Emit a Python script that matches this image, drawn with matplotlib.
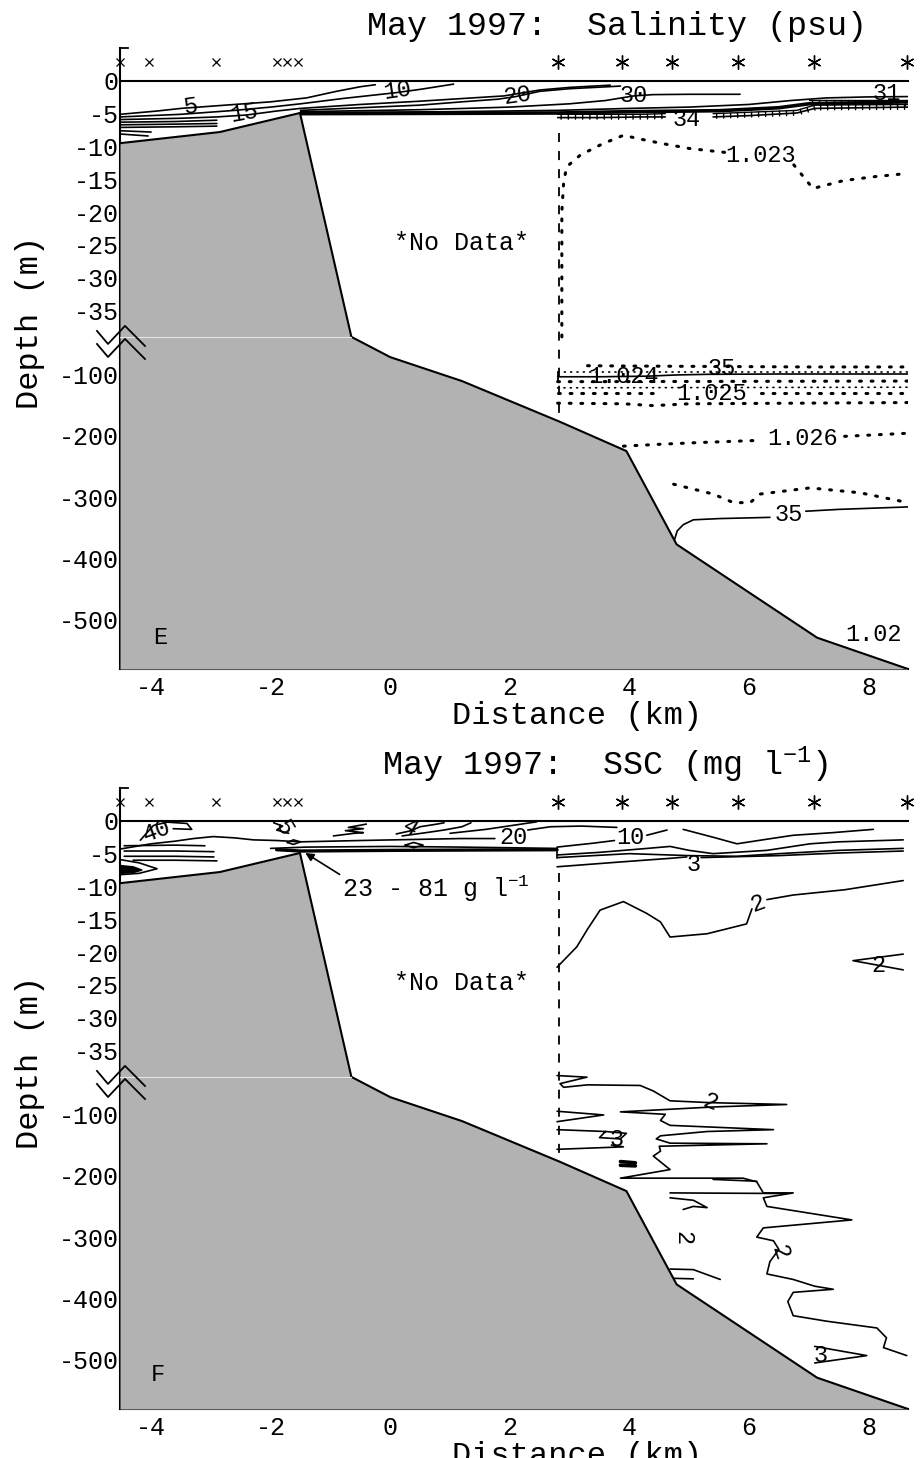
import numpy as np
import matplotlib
matplotlib.use('Agg')
import matplotlib.pyplot as plt
from matplotlib import patheffects as pe

plt.rcParams['font.family'] = ['Liberation Mono', 'DejaVu Sans']
plt.rcParams['mathtext.fontset'] = 'custom'
plt.rcParams['mathtext.rm'] = 'Liberation Mono'
plt.rcParams['mathtext.it'] = 'Liberation Mono'
plt.rcParams['mathtext.bf'] = 'Liberation Mono:bold'

# ---------------- data ----------------
x_ticks = [-4, -2, 0, 2, 4, 6, 8]
depth_ticks = [0, -5, -10, -15, -20, -25, -30, -35, -100, -200, -300, -400, -500]
depth_tick_labels = ['0', '-5', '-10', '-15', '-20', '-25', '-30', '-35',
                     '-100', '-200', '-300', '-400', '-500']

bathy_x = [-4.52, -2.85, -1.51, -0.65, 0.0, 1.2, 2.83, 3.95, 4.79, 7.14, 8.66]
bathy_z = [-9.5, -7.8, -4.9, -39.0, -72, -111, -177, -225, -377, -529, -580]

cross_stations = [-4.52, -4.03, -2.91, -1.89, -1.73, -1.55]
star_stations = [2.81, 3.87, 4.71, 5.82, 7.08, 8.64]
no_data_x = 2.83

# Salinity (panel E) contour lines, (distance km, depth m)
sal_05 = [(-4.52, -5.1), (-3.9, -4.6), (-3.5, -4.2), (-2.6, -3.6), (-2.0, -3.2), (-1.4, -2.6),
          (-0.9, -1.6), (-0.5, -0.9), (-0.25, -0.6)]
sal_10 = [(-4.52, -5.5), (-3.5, -5.1), (-2.6, -4.5), (-2.0, -4.0), (-1.5, -3.5), (-0.8, -2.7),
          (-0.3, -2.2), (0.1, -1.8), (0.5, -1.3), (1.06, -0.5)]
sal_15 = [(-4.52, -5.9), (-3.5, -5.7), (-2.9, -5.5), (-2.4, -5.2), (-1.9, -4.6), (-1.5, -4.2),
          (-0.5, -3.6), (0.5, -3.1), (1.2, -2.7), (1.9, -2.3), (2.5, -1.4), (3.0, -1.0), (3.68, -0.66)]
sal_20 = [(-1.5, -4.5), (-0.5, -4.1), (0.5, -3.7), (1.2, -3.2), (1.8, -2.8), (2.1, -2.4),
          (2.5, -1.6), (3.0, -1.2), (3.85, -0.8)]
sal_30 = [(-1.5, -4.7), (0.5, -4.4), (2.0, -4.0), (3.0, -3.5), (3.6, -3.0), (4.07, -2.3),
          (4.4, -2.1), (5.0, -2.05), (5.85, -2.05)]
sal_31 = [(-1.5, -4.85), (1.0, -4.7), (2.8, -4.5), (4.0, -4.2), (5.0, -4.0), (6.0, -3.6),
          (6.7, -3.0), (7.3, -2.6), (8.0, -2.45), (8.66, -2.4)]
sal_33 = [(-1.5, -5.0), (1.0, -4.95), (2.8, -4.9), (4.0, -4.7), (5.5, -4.55), (6.5, -4.1),
          (7.0, -3.5), (8.66, -3.2)]
sal_34a = [(2.8, -5.6), (3.5, -5.6), (4.2, -5.5), (4.6, -5.5)]
sal_34b = [(5.4, -5.5), (6.0, -5.3), (6.8, -4.9), (7.1, -4.2), (8.66, -4.0)]
sig_a = [(2.8, -5.1), (4.2, -5.1), (4.6, -5.0)]
sig_b = [(5.4, -5.0), (6.8, -4.5), (7.1, -3.7), (8.66, -3.6)]
sig_c = [(7.0, -2.9), (8.66, -2.9)]
sal_pool = [
    [(-4.52, -6.3), (-3.6, -6.2), (-2.9, -6.0)],
    [(-4.52, -6.7), (-3.6, -6.6), (-2.9, -6.5)],
    [(-4.52, -7.1), (-3.6, -7.0), (-2.9, -6.9)],
    [(-4.52, -7.6), (-4.0, -7.8)],
    [(-4.52, -8.1), (-4.05, -8.4)],
]
sal_35a = [(2.8, -104), (3.5, -104), (4.3, -103), (4.8, -101), (5.3, -100), (6.5, -99.5), (8.66, -99.5)]
sal_35b = [(4.74, -374), (4.8, -355), (4.9, -345), (5.07, -337), (5.5, -335), (6.35, -333)]
sal_35c = [(6.95, -323), (7.5, -320), (8.66, -316)]

# density (sigma) dotted lines, panel E
den_1023a = [(2.87, -39), (2.87, -30), (2.87, -20), (2.9, -15.5), (2.95, -13.1), (3.18, -11.3),
             (3.55, -9.6), (3.9, -8.3), (4.2, -8.9), (4.52, -9.5), (5.0, -10.3), (5.7, -11.0)]
den_1023b = [(6.75, -12.8), (7.07, -16.4), (7.58, -15.2), (8.1, -14.6), (8.66, -14.1)]
den_1024a = [(3.3, -86), (4.0, -86.5), (5.0, -87), (6.0, -87.5), (7.0, -88), (8.66, -88)]
den_1024b = [(2.8, -96), (8.66, -96)]
den_1025a = [(2.8, -112), (8.66, -111)]
den_1025b = [(2.8, -122), (8.66, -121)]
den_1025c = [(2.8, -131), (4.5, -131)]
den_1025d = [(6.2, -131), (8.66, -131)]
den_1025e = [(2.8, -147), (3.9, -148), (4.4, -151), (5.0, -148), (8.66, -146)]
den_1026a = [(3.9, -217), (4.5, -214), (5.2, -211), (6.2, -207.5)]
den_1026b = [(7.6, -201), (8.66, -196)]
den_1027 = [(4.74, -279), (5.4, -295), (5.74, -309), (6.02, -309), (6.19, -295), (7.02, -285),
            (7.86, -293), (8.66, -309)]

# SSC (panel F) contour lines
ssc_40loop = [(-4.18, -2.95), (-3.96, -0.7), (-3.73, -0.2), (-3.40, -0.4), (-3.32, -1.3), (-3.63, -1.2)]
ssc_top = [(-4.52, -4.3), (-4.0, -3.5), (-3.6, -3.1), (-3.29, -2.7), (-2.96, -2.4), (-2.6, -2.6),
           (-2.29, -2.9), (-1.9, -3.0), (-1.5, -3.2), (-0.5, -3.0), (1.17, -2.7), (1.75, -2.7)]
ssc_pool = [
    [(-4.45, -3.8), (-3.6, -3.7), (-3.1, -3.8)],
    [(-4.45, -4.6), (-3.6, -4.6), (-2.95, -4.7)],
    [(-4.45, -5.4), (-3.6, -5.4), (-2.95, -5.5)],
    [(-4.3, -6.0), (-3.6, -6.0), (-2.9, -6.1)],
    [(-4.52, -5.9), (-4.2, -6.4), (-3.9, -7.3), (-4.2, -8.0), (-4.52, -8.2)],
]
ssc_eye = [(-4.52, -6.8), (-4.3, -7.0), (-4.15, -7.5), (-4.3, -7.9), (-4.52, -8.0)]
ssc_mid1 = [(-2.0, -4.2), (-1.4, -4.0), (0.0, -3.9), (1.17, -4.0), (2.79, -4.2)]
ssc_mid2 = [(-1.9, -4.4), (-1.5, -4.6), (0.0, -4.5), (2.79, -4.4)]
ssc_loop_a = [(-1.72, -3.3), (-1.62, -2.9), (-1.5, -3.2), (-1.62, -3.6), (-1.72, -3.3)]
ssc_loop_b = [(0.25, -3.7), (0.39, -3.3), (0.55, -3.7), (0.39, -4.1), (0.25, -3.7)]
ssc_zig_a = [(-0.95, -2.3), (-0.6, -1.9), (-0.45, -1.8), (-0.75, -1.5), (-0.45, -1.2), (-0.7, -1.0), (-0.4, -0.5)]
ssc_zig_b = [(0.1, -2.0), (0.35, -1.5), (0.5, -0.9), (0.78, -0.5), (0.9, -0.3)]
ssc_zig_c = [(0.2, -2.3), (0.6, -1.8), (0.9, -1.4), (1.2, -0.9), (1.35, -0.3)]
ssc_zig_d = [(-1.95, -0.3), (-1.8, -0.8), (-1.9, -1.4), (-1.7, -1.9)]
ssc_20top = [(1.0, -1.9), (1.6, -1.3), (2.45, -0.15)]
ssc_20 = [(2.3, -1.4), (2.68, -0.9), (3.2, -0.8), (3.79, -1.0)]
ssc_10a = [(2.79, -4.0), (3.4, -3.4), (3.75, -3.0)]
ssc_10b = [(4.29, -2.2), (4.63, -1.4)]
ssc_10c = [(4.9, -1.3), (5.4, -2.5), (5.8, -3.5), (6.3, -2.8), (6.74, -2.2), (7.4, -1.8), (8.08, -1.3)]
ssc_c1 = [(2.79, -5.2), (3.5, -4.8), (4.3, -4.2), (4.68, -3.9), (5.0, -4.5), (5.4, -5.0),
          (6.3, -4.5), (7.02, -3.5), (7.5, -3.2), (8.58, -2.9)]
ssc_c2 = [(2.79, -5.6), (4.0, -5.0), (5.0, -5.3), (5.8, -5.4), (6.5, -5.0), (7.5, -4.5), (8.58, -4.2)]
ssc_3a = [(2.79, -7.0), (3.8, -6.3), (4.7, -5.7), (4.96, -5.5)]
ssc_3b = [(5.2, -5.6), (6.5, -5.3), (7.5, -4.9), (8.58, -4.6)]
ssc_step = [(2.79, -4.2), (2.79, -5.6)]
ssc_2a = [(2.79, -22.3), (3.12, -19.2), (3.3, -16.5), (3.51, -13.6), (3.9, -12.3), (4.29, -14.1),
          (4.52, -15.4), (4.68, -17.7), (5.3, -17.2), (5.96, -15.7), (6.05, -13.4)]
ssc_2b = [(6.3, -12.0), (6.74, -11.3), (7.6, -10.5), (8.58, -9.1)]
ssc_2c = [(8.58, -20.3), (7.74, -21.3), (8.58, -22.7)]
ssc_deep = [(2.79, -38.8), (3.29, -39.5), (2.84, -50), (2.9, -56), (3.3, -52), (4.18, -53),
            (4.4, -62), (4.68, -78), (5.35, -81), (6.63, -84), (5.41, -88), (3.85, -96),
            (4.6, -100), (4.52, -110), (4.68, -118), (6.41, -125), (5.3, -128), (4.52, -135),
            (4.45, -140), (4.68, -147), (6.3, -148), (4.5, -152), (4.52, -160), (4.4, -168),
            (4.68, -190), (3.85, -204), (5.9, -204), (6.13, -210), (6.24, -228), (6.74, -228),
            (6.24, -236), (6.3, -250), (7.72, -272), (6.24, -285), (6.13, -300), (6.41, -306),
            (6.5, -320), (6.35, -340), (6.3, -360), (6.74, -369), (7.1, -380), (7.41, -385),
            (6.74, -390), (6.65, -405), (6.74, -428), (7.3, -437), (8.14, -448), (8.3, -464),
            (8.25, -480), (8.64, -493)]
ssc_tri = [(2.79, -95), (3.57, -101), (2.79, -112)]
ssc_in1 = [(2.79, -125), (3.6, -128), (3.95, -131), (3.85, -140), (3.5, -138), (3.6, -128)]
ssc_in2 = [(2.79, -157), (3.9, -153), (3.7, -150)]
ssc_in3 = [(3.85, -177), (4.1, -179)]
ssc_in4 = [(3.85, -183), (4.1, -184)]
ssc_in5 = [(5.4, -206), (6.13, -209)]
ssc_in6 = [(4.68, -228), (6.6, -229)]
ssc_in7 = [(4.68, -236), (5.07, -240), (5.3, -252), (5.07, -250), (4.9, -255)]
ssc_in8 = [(4.68, -352), (5.07, -353), (5.52, -369)]
ssc_in9 = [(4.68, -367), (5.07, -368)]
ssc_3c = [(7.1, -478), (7.97, -493), (7.1, -505)]

# --------------- depth scale with break ---------------
BREAK = -39.0
RATIO = 0.6125 / 6.55


def fwd(z):
    z = np.asarray(z, dtype=float)
    return np.where(z >= BREAK, z, BREAK + (z - BREAK) * RATIO)


def inv(u):
    u = np.asarray(u, dtype=float)
    return np.where(u >= BREAK, u, BREAK + (u - BREAK) / RATIO)


W, H = 923, 1458
fig = plt.figure(figsize=(W / 100, H / 100), dpi=100)


def draw(ax, pts, **kw):
    xs, zs = zip(*pts)
    kw.setdefault('color', 'k')
    kw.setdefault('lw', 1.2)
    kw.setdefault('zorder', 2)
    ax.plot(xs, zs, solid_capstyle='round', **kw)


def dotted(ax, pts, lw=2.2):
    draw(ax, pts, lw=lw, linestyle=(0, (0.6, 3.2)), dash_capstyle='round')


def ticked(ax, pts):
    draw(ax, pts, lw=1.0, path_effects=[pe.withTickedStroke(angle=-90, spacing=5, length=0.7)])


def make_axes(top_px):
    bottom_px = top_px + 621
    ax = fig.add_axes([120 / W, 1 - bottom_px / H, 788 / W, 621 / H])
    ax.set_yscale('function', functions=(fwd, inv))
    ax.set_xlim(-4.52, 8.66)
    ax.set_ylim(-580, 5)
    for s in ['top', 'right']:
        ax.spines[s].set_visible(False)
    for s in ['left', 'bottom']:
        ax.spines[s].set_linewidth(1.5)
    ax.set_yticks(depth_ticks)
    ax.set_yticklabels(depth_tick_labels)
    ax.set_xticks(x_ticks)
    ax.set_xticklabels([str(v) for v in x_ticks])
    ax.tick_params(axis='y', length=0, pad=1, labelsize=18)
    ax.tick_params(axis='x', length=0, pad=5, labelsize=18)
    ax.yaxis.set_minor_locator(matplotlib.ticker.NullLocator())
    # bathymetry
    ax.fill_between(bathy_x, bathy_z, -580, color='#b2b2b2', lw=0, zorder=3)
    ax.plot(bathy_x, bathy_z, color='k', lw=1.5, zorder=4)
    ax.plot([-4.52, -0.66], [BREAK, BREAK], color='#e6e6e6', lw=0.8, zorder=4)
    # surface line and top mark
    ax.plot([-4.52, 8.66], [0, 0], color='k', lw=1.5, zorder=4, clip_on=False)
    ax.plot([-4.52, -4.38], [5, 5], color='k', lw=1.3, zorder=4, clip_on=False)
    # stations
    ax.plot(cross_stations, [2.85] * len(cross_stations), linestyle='none', marker='x',
            ms=6, mew=0.9, color='k', clip_on=False, zorder=5)
    ax.plot(star_stations, [2.85] * len(star_stations), linestyle='none', marker=(6, 2, 0),
            ms=10, mew=1.0, color='k', clip_on=False, zorder=5)
    # break symbol (axes fraction)
    for dy in (0.0, -0.021):
        xs = [-0.0292, -0.0152, 0.00635, 0.0317]
        ys = [0.5444 + dy, 0.5234 + dy, 0.5525 + dy, 0.5202 + dy]
        ax.plot(xs, ys, transform=ax.transAxes, color='k', lw=1.3, clip_on=False, zorder=6)
    # no data
    ax.plot([no_data_x, no_data_x], [-8, -177], color='k', lw=1.3,
            linestyle=(0, (5, 5)), zorder=2)
    ax.text(1.2, -24.7, '*No Data*', ha='center', va='center', fontsize=18, zorder=6)
    return ax


# ---------------- panel E ----------------
axE = make_axes(48)
for pts in [sal_05, sal_10, sal_15, sal_20, sal_30, sal_31, sal_34a, sal_34b,
            sal_35a, sal_35b, sal_35c] + sal_pool:
    draw(axE, pts)
draw(axE, sal_33, lw=2.6)
for pts in [sig_a, sig_b, sig_c]:
    ticked(axE, pts)
for pts in [den_1023a, den_1023b, den_1024a, den_1025a, den_1025c, den_1025d, den_1025e,
            den_1026a, den_1026b, den_1027]:
    dotted(axE, pts)
for pts in [den_1024b, den_1025b]:
    dotted(axE, pts, lw=1.2)
draw(axE, [(2.8, -97), (2.8, -111)], lw=1.3)

lab = dict(ha='center', va='center', fontsize=17, zorder=6)
axE.text(-3.34, -3.85, '5', rotation=8, **lab)
axE.text(-2.45, -4.9, '15', rotation=10, **lab)
axE.text(0.12, -1.55, '10', rotation=8, **lab)
axE.text(2.12, -2.25, '20', rotation=8, **lab)
axE.text(4.07, -2.2, '30', **lab)
axE.text(8.3, -1.9, '31', **lab)
axE.text(4.96, -5.9, '34', **lab)
axE.text(6.2, -11.4, '1.023', **lab)
axE.text(5.55, -91, '35', **lab)
axE.text(3.9, -103, '1.024', **lab)
axE.text(5.38, -132, '1.025', **lab)
axE.text(6.9, -204, '1.026', **lab)
axE.text(6.66, -328, '35', **lab)
axE.text(8.08, -523, '1.02', **lab)
axE.text(-3.85, -529, 'E', ha='center', va='center', fontsize=17, zorder=6)

fig.text(367 / W, 1 - 27 / H, 'May 1997:  Salinity (psu)', ha='left', va='center', fontsize=24)
fig.text(30 / W, 1 - 322 / H, 'Depth (m)', rotation=90, ha='center', va='center', fontsize=23)
fig.text(577 / W, 1 - 716 / H, 'Distance (km)', ha='center', va='center', fontsize=23)

# ---------------- panel F ----------------
axF = make_axes(788)
for pts in [ssc_40loop, ssc_top, ssc_mid1, ssc_loop_a, ssc_loop_b, ssc_zig_a, ssc_zig_b,
            ssc_zig_c, ssc_zig_d, ssc_20top, ssc_20, ssc_10a, ssc_10b, ssc_10c, ssc_c1,
            ssc_c2, ssc_3a, ssc_3b, ssc_step, ssc_2a, ssc_2b, ssc_2c, ssc_deep, ssc_tri,
            ssc_in1, ssc_in2, ssc_in5, ssc_in6, ssc_in7, ssc_in8, ssc_in9, ssc_3c] + ssc_pool:
    draw(axF, pts)
draw(axF, ssc_mid2, lw=2.4)
draw(axF, ssc_in3, lw=2.6)
draw(axF, ssc_in4, lw=2.6)
ex, ez = zip(*ssc_eye)
axF.fill(ex, ez, color='k', zorder=2)

axF.text(-3.9, -1.6, '40', rotation=20, **lab)
axF.text(-1.78, -1.1, '5', rotation=-60, **lab)
axF.text(0.33, -1.1, '4', rotation=-30, **lab)
axF.text(2.06, -2.6, '20', **lab)
axF.text(4.01, -2.6, '10', **lab)
axF.text(5.07, -6.6, '3', **lab)
axF.text(6.15, -12.6, '2', rotation=20, **lab)
axF.text(8.16, -22.0, '2', **lab)
axF.text(5.35, -81, '2', rotation=-20, **lab)
axF.text(3.79, -141, '3', **lab)
axF.text(4.9, -302, '2', rotation=-90, **lab)
axF.text(6.52, -325, '2', rotation=-70, **lab)
axF.text(7.2, -493, '3', **lab)
axF.text(-3.88, -523, 'F', ha='center', va='center', fontsize=17, zorder=6)
axF.annotate('23 - 81 g l$^{-1}$', xy=(-1.42, -4.9), xytext=(-0.8, -10.3),
             ha='left', va='center', fontsize=18, zorder=6,
             arrowprops=dict(arrowstyle='-|>', color='k', lw=1.2, mutation_scale=12,
                             shrinkA=0, shrinkB=0, relpos=(0, 0.9)))

fig.text(382 / W, 1 - 765 / H, 'May 1997:  SSC (mg l$^{-1}$)', ha='left', va='center', fontsize=24)
fig.text(30 / W, 1 - 1062 / H, 'Depth (m)', rotation=90, ha='center', va='center', fontsize=23)
fig.text(577 / W, 1 - 1456 / H, 'Distance (km)', ha='center', va='center', fontsize=23)

fig.savefig('out.png', dpi=100)
